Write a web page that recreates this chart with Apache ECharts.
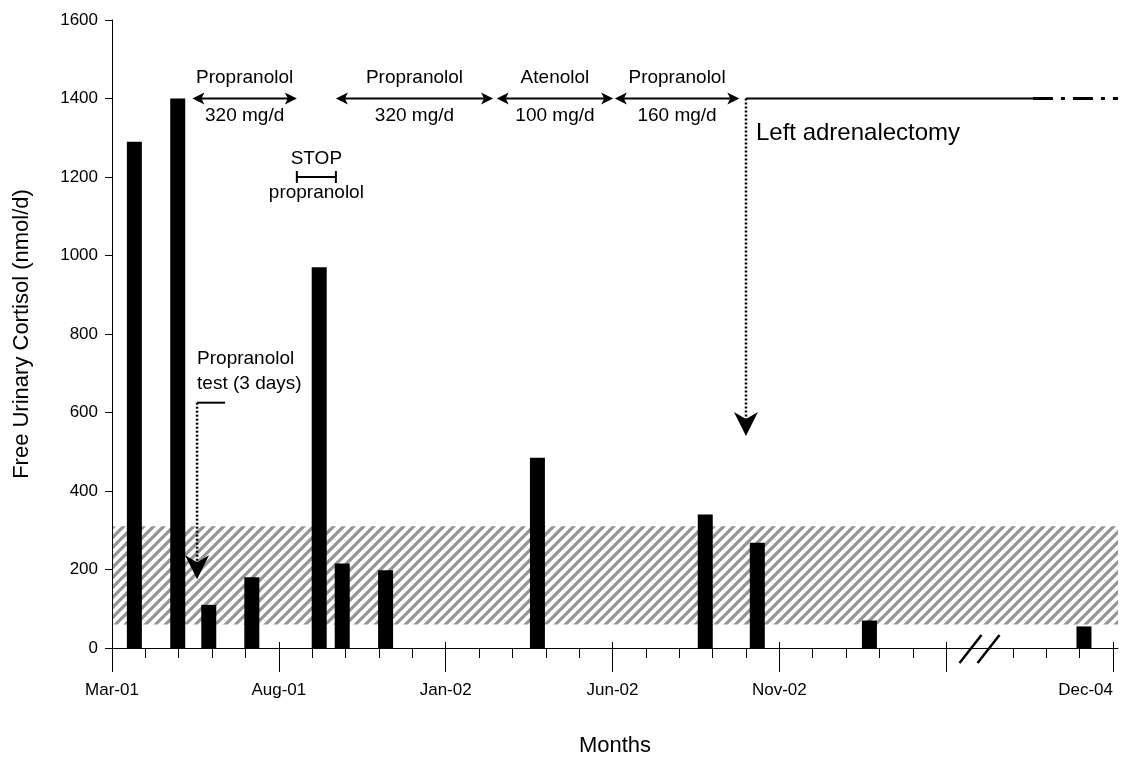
<!DOCTYPE html>
<html><head><meta charset="utf-8">
<script src="https://cdn.jsdelivr.net/npm/echarts@6/dist/echarts.min.js"></script>
<style>html,body{margin:0;padding:0;background:#fff}#c{width:1133px;height:767px}</style>
</head><body><div id="c"></div>
<script>
// ---- data (x = months counted from Mar-01; axis compressed after Apr-03) ----
const barMonths = [0.67, 1.97, 2.9, 4.19, 6.21, 6.9, 8.2, 12.75, 17.78, 19.34, 22.7, 29.13];
const cortisol  = [1290, 1400, 110, 180, 970, 215, 198, 485, 340, 268, 70, 55];
const labelValues = [0, 5, 10, 15, 20, 30];
const labelTexts  = ['Mar-01', 'Aug-01', 'Jan-02', 'Jun-02', 'Nov-02', 'Dec-04'];
const majorTicks  = [0, 5, 10, 15, 20, 25, 30];
const minorTicks  = [1,2,3,4,6,7,8,9,11,12,13,14,16,17,18,19,21,22,23,24,27,28,29];
const normalRange = [60, 310];
const treatStart  = [2.41, 6.71, 11.53, 15.07];
const treatEnd    = [5.54, 11.42, 15.02, 18.8];
const treatDrug   = ['Propranolol', 'Propranolol', 'Atenolol', 'Propranolol'];
const treatDose   = ['320 mg/d', '320 mg/d', '100 mg/d', '160 mg/d'];
const treatLevel  = 1400;
const stopRange   = [5.54, 6.71];
const stopLevel   = 1200;
const testMonth   = [2.55, 3.39];
const testLevel   = 625;
const testArrowTo = 175;
const surgeryMonth = 19.0;
const surgeryArrowTo = 540;
const followSolidEnd = 27.6;
const axisEnd = 30.15;
const breakMonth = 26;

const chart = echarts.init(document.getElementById('c'), null, {renderer: 'canvas'});
const FONT = 'Liberation Sans, Arial, sans-serif';

// hatch pattern for the normal range
const pc = document.createElement('canvas');
const P_ = 10; pc.width = P_; pc.height = P_;
const g = pc.getContext('2d');
g.fillStyle = '#ffffff'; g.fillRect(0, 0, P_, P_);
g.strokeStyle = '#959595'; g.lineWidth = 3.3;
g.beginPath();
g.moveTo(-2, P_ + 2); g.lineTo(P_ + 2, -2);
g.moveTo(-2, 2); g.lineTo(2, -2);
g.moveTo(P_ - 2, P_ + 2); g.lineTo(P_ + 2, P_ - 2);
g.stroke();

const baseX = {
  type: 'value', min: 0, max: axisEnd, position: 'bottom', offset: 0, z: 5,
  splitLine: {show: false}
};

const option = {
  animation: false,
  backgroundColor: '#ffffff',
  grid: {left: 112, right: 15, top: 20, bottom: 119, containLabel: false},
  xAxis: [
    Object.assign({}, baseX, {
      name: 'Months', nameLocation: 'middle', nameGap: 87,
      nameTextStyle: {fontFamily: FONT, fontSize: 22, color: '#000'},
      axisLine: {show: true, lineStyle: {color: '#000', width: 1}},
      axisTick: {show: true, customValues: majorTicks, length: 24, lineStyle: {color: '#000', width: 1}},
      axisLabel: {
        show: true, customValues: labelValues, margin: 34, alignMaxLabel: 'right',
        fontFamily: FONT, fontSize: 17, color: '#000',
        formatter: v => { const i = labelValues.indexOf(Math.round(v)); return i >= 0 ? labelTexts[i] : ''; }
      }
    }),
    Object.assign({}, baseX, {
      axisLine: {show: false},
      axisTick: {show: true, inside: true, customValues: majorTicks, length: 6, lineStyle: {color: '#000', width: 1}},
      axisLabel: {show: false}
    }),
    Object.assign({}, baseX, {
      axisLine: {show: false},
      axisTick: {show: true, customValues: minorTicks, length: 10, lineStyle: {color: '#000', width: 1}},
      axisLabel: {show: false}
    })
  ],
  yAxis: {
    type: 'value', min: 0, max: 1600, interval: 200, z: 5,
    name: 'Free Urinary Cortisol (nmol/d)', nameLocation: 'middle', nameGap: 79,
    nameTextStyle: {fontFamily: FONT, fontSize: 22, color: '#000'},
    axisLine: {show: true, lineStyle: {color: '#000', width: 1}},
    axisTick: {show: true, length: 7, lineStyle: {color: '#000'}},
    axisLabel: {fontFamily: FONT, fontSize: 17, color: '#000', margin: 14, formatter: v => String(v)},
    splitLine: {show: false}
  },
  series: [
    {
      type: 'line', xAxisIndex: 0, data: [], z: 1, silent: true,
      markArea: {
        silent: true,
        itemStyle: {color: {image: pc, repeat: 'repeat'}, borderWidth: 0},
        data: [[{xAxis: 0, yAxis: normalRange[0]}, {xAxis: axisEnd, yAxis: normalRange[1]}]]
      }
    },
    {
      type: 'bar', xAxisIndex: 0, z: 3, barWidth: 15,
      itemStyle: {color: '#000'},
      data: barMonths.map((m, i) => [m, cortisol[i]])
    }
  ]
};
chart.setOption(option);

// ---- annotations placed through the chart's own scales ----
const P = (x, y) => chart.convertToPixel({xAxisIndex: 0, yAxisIndex: 0}, [x, y]);
const els = [];
const line = (a, b, w, dash) => els.push({type: 'line', z: 10, shape: {x1: a[0], y1: a[1], x2: b[0], y2: b[1]},
  style: {stroke: '#000', lineWidth: w, lineDash: dash || null}});
const text = (s, x, y, size, align) => els.push({type: 'text', z: 10, style: {text: s, x: x, y: y,
  font: size + 'px ' + FONT, fill: '#000', align: align || 'center', verticalAlign: 'middle',
  textAlign: align || 'center', textVerticalAlign: 'middle'}});
const headH = (tip, dir) => {
  const L = 12, W = 6, N = 3;
  els.push({type: 'polygon', z: 11, shape: {points: [
    [tip[0], tip[1]], [tip[0] - dir * L, tip[1] - W], [tip[0] - dir * (L - N), tip[1]], [tip[0] - dir * L, tip[1] + W]]},
    style: {fill: '#000'}});
};
const headDown = (tip) => {
  const L = 24, W = 12, N = 7;
  els.push({type: 'polygon', z: 11, shape: {points: [
    [tip[0], tip[1]], [tip[0] - W, tip[1] - L], [tip[0], tip[1] - L + N], [tip[0] + W, tip[1] - L]]},
    style: {fill: '#000'}});
};

for (let i = 0; i < treatStart.length; i++) {
  const a = P(treatStart[i], treatLevel), b = P(treatEnd[i], treatLevel);
  line([a[0] + 6, a[1]], [b[0] - 6, b[1]], 2);
  headH(a, -1); headH(b, 1);
  const cx = (a[0] + b[0]) / 2;
  text(treatDrug[i], cx, a[1] - 21, 19);
  text(treatDose[i], cx, a[1] + 17, 19);
}
{
  const a = P(stopRange[0], stopLevel), b = P(stopRange[1], stopLevel);
  line(a, b, 2);
  line([a[0], a[1] - 6], [a[0], a[1] + 6], 2);
  line([b[0], b[1] - 6], [b[0], b[1] + 6], 2);
  const cx = (a[0] + b[0]) / 2;
  text('STOP', cx, a[1] - 18, 19);
  text('propranolol', cx, a[1] + 16, 19);
}
{
  const a = P(testMonth[0], testLevel), b = P(testMonth[1], testLevel);
  const t = P(testMonth[0], testArrowTo);
  line(a, b, 2);
  line(a, [t[0], t[1] - 14], 2.5, [2, 2]);
  headDown(t);
  text('Propranolol', a[0], a[1] - 44, 19, 'left');
  text('test (3 days)', a[0], a[1] - 19, 19, 'left');
}
{
  const a = P(surgeryMonth, treatLevel), s = P(followSolidEnd, treatLevel), e = P(axisEnd, treatLevel);
  const t = P(surgeryMonth, surgeryArrowTo);
  line(a, s, 2);
  line(s, e, 3, [20, 8, 4, 8]);
  line(a, [t[0], t[1] - 14], 2.5, [2, 2]);
  headDown(t);
  text('Left adrenalectomy', a[0] + 10, a[1] + 35, 24, 'left');
}
{
  const c = P(breakMonth, 0);
  [-9, 9].forEach(dx => line([c[0] + dx - 11, c[1] + 15], [c[0] + dx + 11, c[1] - 13], 2.5));
}
chart.setOption({graphic: {elements: els}});
</script></body></html>
